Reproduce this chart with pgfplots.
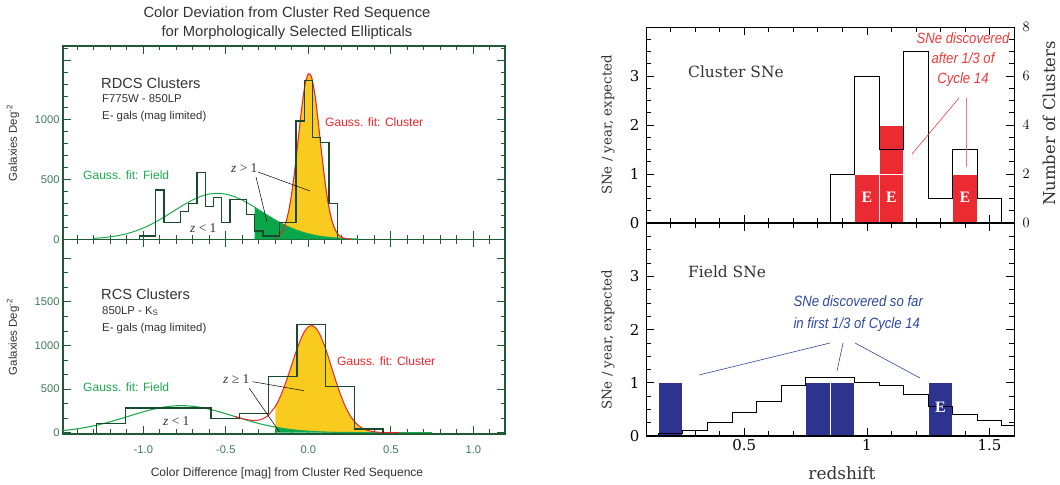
\documentclass[border=0pt]{standalone}
\usepackage{pgfplots}
\pgfplotsset{compat=1.18}
\usepgfplotslibrary{fillbetween}
\usepackage{fontspec}
\setmainfont{Liberation Sans}
\newfontfamily\tms{Liberation Serif}
\newfontfamily\dvs{DejaVu Serif}
\newfontfamily\cnd[FakeStretch=0.88]{Liberation Sans}
\newcommand\fs[1]{\fontsize{#1}{#1}\selectfont}

\definecolor{frameG}{HTML}{1F5A36}
\definecolor{tickG}{HTML}{3C7A5A}
\definecolor{histG}{HTML}{1A4A2C}
\definecolor{fieldG}{HTML}{1DAA4F}
\definecolor{fillG}{HTML}{0AA64A}
\definecolor{yel}{HTML}{F9CB1E}
\definecolor{redL}{HTML}{E8262D}
\definecolor{snred}{HTML}{EC2A32}
\definecolor{snblue}{HTML}{2E3390}
\definecolor{txt}{HTML}{333333}
\definecolor{blueT}{HTML}{2E48A0}
\definecolor{redT}{HTML}{EE3A3A}
\definecolor{pinkL}{HTML}{F07878}

\pgfplotsset{
  leftax/.style={scale only axis, anchor=south west, width=442bp,
    xmin=-1.487, xmax=1.192,
    axis line style={frameG, line width=1.4pt},
    tick style={frameG, line width=0.9pt},
    major tick length=8bp, minor tick length=4.5bp, tick align=inside,
    tick label style={font=\fs{11.2}, text=tickG},
    xticklabel style={yshift=-8bp},
    xtick={-1,-0.5,0,0.5,1},
    minor xtick={-1.4,-1.3,...,1.1},
    set layers},
  rightax/.style={scale only axis, anchor=south west, width=368bp,
    xmin=0.1, xmax=1.6, ymin=0, ymax=4,
    axis line style={black, line width=0.7pt},
    tick style={black, line width=0.6pt},
    major tick length=8bp, minor tick length=5bp, tick align=inside,
    tick label style={font=\dvs\fs{15}},
    yticklabel style={xshift=-3bp},
    xtick={0.5,1,1.5}, minor xtick={0.1,0.2,...,1.6},
    ytick={0,1,2,3,4}, yticklabels={0,1,2,3,},
    minor ytick={0.25,0.5,...,4}, yticklabel pos=left},
}
\tikzset{ann/.style={inner sep=0pt, anchor=west}}

\begin{document}
\begin{tikzpicture}[x=1bp, y=1bp]
\path (0,0) rectangle (1060,485);

% ---------- left top: RDCS ----------
\begin{axis}[leftax, at={(63bp,245.5bp)}, height=193.5bp, ymin=-2, ymax=1619,
  xticklabels={}, ytick={0,500,1000,1500}, yticklabels={0,500,1000,},
  minor ytick={100,200,...,1600}]
\addplot[draw=none, name path=baseT] coordinates {(-1.5,0) (1.2,0)};
\addplot[fieldG, line width=1pt, smooth, name path=fieldT] coordinates {
 (-1.30,7.6) (-1.25,12.6) (-1.20,20.3) (-1.15,31.3) (-1.10,46.9) (-1.05,67.6)
 (-1.00,94.2) (-0.95,126.7) (-0.90,164.7) (-0.85,206.5) (-0.80,250.1) (-0.75,292.4)
 (-0.70,330.2) (-0.65,359.9) (-0.60,378.8) (-0.55,385.0) (-0.50,377.8) (-0.45,357.9)
 (-0.40,327.4) (-0.35,289.1) (-0.30,246.6) (-0.25,203.1) (-0.20,161.5) (-0.15,123.9)
 (-0.10,91.9) (-0.05,65.8) (0.00,45.4) (0.05,30.3) (0.10,19.5) (0.15,12.2)
 (0.20,7.3) (0.25,4.2) (0.30,2.4)};
\addplot[redL, line width=1.1pt, smooth, name path=clT] coordinates {
 (-0.20,11.2) (-0.18,27.4) (-0.16,61.0) (-0.14,124.4) (-0.12,231.2) (-0.10,392.0)
 (-0.08,606.5) (-0.06,855.8) (-0.04,1101.7) (-0.02,1293.8) (0.00,1386.0) (0.02,1354.6)
 (0.04,1207.6) (0.06,982.3) (0.08,728.9) (0.10,493.3) (0.12,304.6) (0.14,171.5)
 (0.16,88.3) (0.18,41.3) (0.20,17.7) (0.22,6.9) (0.24,2.4) (0.26,0.7)};
\addplot[yel] fill between[of=clT and fieldT, soft clip={domain=-0.135:0.24}];
\addplot[fillG] fill between[of=fieldT and baseT, soft clip={domain=-0.325:0.3}];
\addplot[histG, line width=1.35pt, const plot] coordinates {
 (-1.025,0) (-1.025,28) (-0.925,413) (-0.875,142) (-0.775,231) (-0.725,301)
 (-0.675,558) (-0.625,273) (-0.575,349) (-0.525,142) (-0.475,335) (-0.375,209)
 (-0.325,70) (-0.275,28) (-0.175,140) (-0.075,991) (-0.025,1328) (0.025,854)
 (0.075,809) (0.125,301) (0.175,0)};
\end{axis}

% ---------- left bottom: RCS ----------
\begin{axis}[leftax, at={(63bp,51bp)}, height=194.5bp, ymin=-15, ymax=2216,
  xticklabels={-1.0,-0.5,0.0,0.5,1.0},
  ytick={0,500,1000,1500,2000}, yticklabels={0,500,1000,1500,},
  minor y tick num=2]
\addplot[draw=none, name path=baseB] coordinates {(-1.5,0) (1.2,0)};
\addplot[fieldG, line width=1.1pt, smooth, name path=fieldB] coordinates {
 (-1.50,23.0) (-1.45,32.4) (-1.40,44.6) (-1.35,60.0) (-1.30,78.7) (-1.25,100.7)
 (-1.20,125.7) (-1.15,153.2) (-1.10,182.2) (-1.05,211.4) (-1.00,239.4) (-0.95,264.6)
 (-0.90,285.4) (-0.85,300.5) (-0.80,308.6) (-0.75,309.4) (-0.70,302.6) (-0.65,289.0)
 (-0.60,269.2) (-0.55,244.7) (-0.50,217.2) (-0.45,188.0) (-0.40,158.9) (-0.35,131.0)
 (-0.30,105.4) (-0.25,82.8) (-0.20,63.5) (-0.15,47.5) (-0.10,34.6) (-0.05,24.7)
 (0.00,17.1) (0.05,11.6) (0.10,7.7) (0.15,5.0) (0.20,3.1) (0.25,1.9)
 (0.30,1.1) (0.40,0.3) (0.50,0.1) (0.75,0)};
\addplot[redL, line width=1pt, smooth, name path=sumB] coordinates {
 (-0.45,188.7) (-0.40,162.1) (-0.35,143.2) (-0.30,144.3) (-0.25,187.7)
 (-0.20,302.3) (-0.175,393.6) (-0.15,507.4) (-0.125,640) (-0.10,782.8) (-0.075,925.9)
 (-0.05,1054.4) (-0.025,1155) (0.00,1214.9) (0.025,1227.2) (0.05,1189.4) (0.075,1106.3)
 (0.10,986.8) (0.125,844.6) (0.15,693.1) (0.175,545.9) (0.20,412.1) (0.225,298.4)
 (0.25,207.2) (0.275,138.2) (0.30,88.3) (0.325,54.2) (0.35,32.0) (0.40,9.8)
 (0.45,2.6) (0.50,0.6) (0.55,0)};
\addplot[yel] fill between[of=sumB and fieldB, soft clip={domain=-0.2:0.55}];
\addplot[fillG] fill between[of=fieldB and baseB, soft clip={domain=-0.2:0.75}];
\addplot[histG, line width=1.35pt, const plot] coordinates {
 (-1.283,0) (-1.283,104) (-1.11,282) (-0.589,166) (-0.416,222) (-0.242,642)
 (-0.069,1243) (0.105,528) (0.278,41) (0.452,0)};
\end{axis}

% ---------- right top: cluster SNe ----------
\begin{axis}[rightax, at={(646bp,262bp)}, height=196bp, xticklabels={}]
\addplot[fill=snred, draw=white, line width=0.8pt] coordinates {(1.05,0) (1.05,2) (1.15,2) (1.15,0)} --cycle;
\addplot[fill=snred, draw=white, line width=0.8pt] coordinates {(0.95,0) (0.95,1) (1.05,1) (1.05,0)} --cycle;
\addplot[fill=snred, draw=white, line width=0.8pt] coordinates {(1.05,0) (1.05,1) (1.15,1) (1.15,0)} --cycle;
\addplot[fill=snred, draw=white, line width=0.8pt] coordinates {(1.35,0) (1.35,1) (1.45,1) (1.45,0)} --cycle;
\addplot[black, line width=0.7pt, const plot] coordinates {
 (0.85,0) (0.85,1) (0.95,3) (1.05,1.5) (1.15,3.5) (1.25,0.5) (1.35,1.5) (1.45,0.5) (1.55,0)};
\addplot[black, line width=1.5pt] coordinates {(0.1,0) (1.6,0)};
\node[text=white, font=\tms\bfseries\fs{16}] at (axis cs:1.0,0.53) {E};
\node[text=white, font=\tms\bfseries\fs{16}] at (axis cs:1.1,0.53) {E};
\node[text=white, font=\tms\bfseries\fs{16}] at (axis cs:1.4,0.53) {E};
\end{axis}
\begin{axis}[scale only axis, anchor=south west, at={(646bp,262bp)}, width=368bp, height=196bp,
  xmin=0.1, xmax=1.6, ymin=0, ymax=8, axis x line=none, axis y line*=right,
  axis line style={black, line width=0.7pt}, tick style={black, line width=0.6pt},
  major tick length=8bp, minor tick length=5bp, tick align=inside,
  ytick={0,2,4,6,8}, minor ytick={0.5,1,...,8},
  tick label style={font=\dvs\fs{15}}, yticklabel style={xshift=5bp}]
\addplot[draw=none] coordinates {(0.2,1) (0.3,1)};
\end{axis}

% ---------- right bottom: field SNe ----------
\begin{axis}[rightax, at={(646bp,49bp)}, height=213bp, xticklabels={0.5,1,1.5}]
\addplot[fill=snblue, draw=white, line width=0.8pt] coordinates {(0.15,0) (0.15,1) (0.25,1) (0.25,0)} --cycle;
\addplot[fill=snblue, draw=white, line width=0.8pt] coordinates {(0.75,0) (0.75,1) (0.85,1) (0.85,0)} --cycle;
\addplot[fill=snblue, draw=white, line width=0.8pt] coordinates {(0.85,0) (0.85,1) (0.95,1) (0.95,0)} --cycle;
\addplot[fill=snblue, draw=white, line width=0.8pt] coordinates {(1.25,0) (1.25,1) (1.35,1) (1.35,0)} --cycle;
\addplot[black, line width=0.7pt, const plot] coordinates {
 (0.15,0) (0.15,0.05) (0.25,0.10) (0.35,0.25) (0.45,0.45) (0.55,0.65) (0.65,0.95)
 (0.75,1.10) (0.95,1.00) (1.05,0.95) (1.15,0.79) (1.25,0.55) (1.35,0.41) (1.45,0.30)
 (1.55,0.20) (1.60,0.20)};
\addplot[black, line width=1.5pt] coordinates {(0.1,0) (1.6,0)};
\node[text=white, font=\tms\bfseries\fs{16}] at (axis cs:1.3,0.53) {E};
\end{axis}

% ---------- texts, left ----------
\node[font=\fontsize{14.8}{18.5}\selectfont, text=txt, align=center] at (287,462)
  {Color Deviation from Cluster Red Sequence\\for Morphologically Selected Ellipticals};
\node[rotate=90, font=\fs{11.5}, text=txt] at (13,342) {Galaxies Deg\textsuperscript{-2}};
\node[rotate=90, font=\fs{11.5}, text=txt] at (13,148) {Galaxies Deg\textsuperscript{-2}};
\node[font=\fs{12.1}, text=txt] at (287,12) {Color Difference [mag] from Cluster Red Sequence};

\node[ann, font=\fs{14.7}, text=txt] at (101,402) {RDCS Clusters};
\node[ann, font=\fs{11.4}, text=txt] at (102,386) {F775W - 850LP};
\node[ann, font=\fs{11.4}, text=txt] at (102,368) {E- gals (mag limited)};
\node[ann, font=\fs{12.1}, text=redL] at (325,363) {Gauss. fit: Cluster};
\node[ann, font=\fs{12.1}, text=fieldG] at (83,310) {Gauss. fit: Field};
\node[ann, font=\tms\fs{13.5}, text=txt] at (231,317) {\textit{z} > 1};
\node[ann, font=\tms\fs{13.5}, text=txt] at (190,257) {\textit{z} < 1};
\draw[line width=0.5pt] (258,313) -- (310,294);
\draw[line width=0.5pt] (256,308) -- (267,263);

\node[ann, font=\fs{14.7}, text=txt] at (101,191) {RCS Clusters};
\node[ann, font=\fs{11.4}, text=txt] at (102,174) {850LP - K\textsubscript{S}};
\node[ann, font=\fs{11.4}, text=txt] at (102,156) {E- gals (mag limited)};
\node[ann, font=\fs{12.1}, text=redL] at (337,124) {Gauss. fit: Cluster};
\node[ann, font=\fs{12.1}, text=fieldG] at (83,98) {Gauss. fit: Field};
\node[ann, font=\tms\fs{13.5}, text=txt] at (223,106) {\textit{z} ≥ 1};
\node[ann, font=\tms\fs{13.5}, text=txt] at (163,64) {\textit{z} < 1};
\draw[line width=0.5pt] (252.7,103.3) -- (304,94.3);
\draw[line width=0.5pt] (249.3,96.7) -- (279.3,53.3);

% ---------- texts, right ----------
\node[ann, font=\dvs\fs{15.5}, text=txt] at (688,413) {Cluster SNe};
\node[ann, font=\dvs\fs{15.5}, text=txt] at (688,213) {Field SNe};
\node[align=center, font=\cnd\itshape\fontsize{15}{20}\selectfont, text=redT] at (963,425)
  {SNe discovered\\after 1/3 of\\Cycle 14};
\draw[redT, line width=0.6pt] (959,387) -- (912,331);
\draw[pinkL, line width=0.6pt] (966,387) -- (966,318);
\node[anchor=west, align=left, font=\cnd\itshape\fontsize{15}{22}\selectfont, text=blueT] at (790,171)
  {SNe discovered so far\\in first 1/3 of Cycle 14};
\draw[blueT, line width=0.6pt] (830,142) -- (699,110);
\draw[blueT, line width=0.6pt] (843,142) -- (837,114);
\draw[blueT, line width=0.6pt] (855,142) -- (920,107);
\node[rotate=90, font=\dvs\fs{13.4}, text=txt] at (608,360) {SNe / year, expected};
\node[rotate=90, font=\dvs\fs{13.4}, text=txt] at (608,145) {SNe / year, expected};
\node[rotate=90, font=\dvs\fs{16.5}, text=txt] at (1049,361.5) {Number of Clusters};
\node[font=\dvs\fs{17}, text=txt] at (842,12) {redshift};
\end{tikzpicture}
\end{document}
